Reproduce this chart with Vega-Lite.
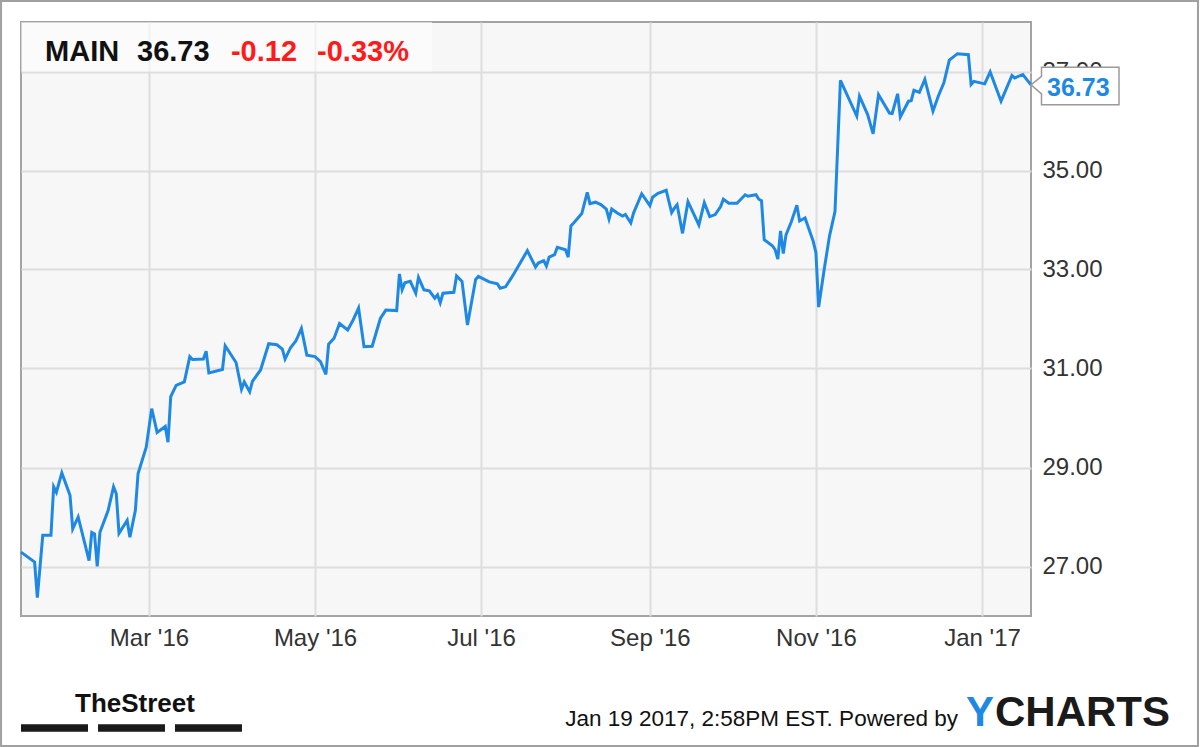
{
"$schema": "https://vega.github.io/schema/vega-lite/v6.json",
"width": 1010, "height": 594,
"autosize": {"type": "none"},
"padding": {"left": 21, "top": 22, "right": 169, "bottom": 131},
"background": "white",
"resolve": {"axis": {"x": "independent", "y": "independent"}},
"config": {
  "view": {"fill": "#f7f7f7", "stroke": "#a3a3a3", "strokeWidth": 2},
  "font": "Liberation Sans, Arial, sans-serif",
  "axis": {"labelFont": "Liberation Sans, Arial, sans-serif", "labelFontSize": 24, "labelColor": "#333333", "domain": false, "ticks": false, "gridColor": "#dedede", "gridWidth": 2}
},
"datasets": {
  "prices": [
    {"date":"2016-01-14","price":27.29},{"date":"2016-01-19","price":27.09},{"date":"2016-01-20","price":26.37},{"date":"2016-01-22","price":27.63},{"date":"2016-01-25","price":27.63},{"date":"2016-01-26","price":28.61},{"date":"2016-01-27","price":28.50},{"date":"2016-01-29","price":28.89},
    {"date":"2016-02-01","price":28.44},{"date":"2016-02-02","price":27.76},{"date":"2016-02-04","price":28.00},{"date":"2016-02-08","price":27.12},{"date":"2016-02-09","price":27.69},{"date":"2016-02-10","price":27.66},{"date":"2016-02-11","price":27.00},{"date":"2016-02-12","price":27.69},{"date":"2016-02-15","price":28.13},{"date":"2016-02-17","price":28.61},{"date":"2016-02-18","price":28.47},{"date":"2016-02-19","price":27.67},{"date":"2016-02-22","price":27.93},{"date":"2016-02-23","price":27.59},{"date":"2016-02-25","price":28.13},{"date":"2016-02-26","price":28.88},{"date":"2016-02-29","price":29.41},
    {"date":"2016-03-02","price":30.19},{"date":"2016-03-04","price":29.71},{"date":"2016-03-07","price":29.83},{"date":"2016-03-08","price":29.51},{"date":"2016-03-09","price":30.43},{"date":"2016-03-11","price":30.66},{"date":"2016-03-14","price":30.73},{"date":"2016-03-16","price":31.24},{"date":"2016-03-17","price":31.18},{"date":"2016-03-21","price":31.19},{"date":"2016-03-22","price":31.35},{"date":"2016-03-23","price":30.91},{"date":"2016-03-28","price":30.98},{"date":"2016-03-29","price":31.46},
    {"date":"2016-04-02","price":31.12},{"date":"2016-04-04","price":30.58},{"date":"2016-04-05","price":30.73},{"date":"2016-04-07","price":30.53},{"date":"2016-04-08","price":30.74},{"date":"2016-04-11","price":30.97},{"date":"2016-04-14","price":31.50},{"date":"2016-04-17","price":31.48},{"date":"2016-04-19","price":31.39},{"date":"2016-04-20","price":31.19},{"date":"2016-04-22","price":31.42},{"date":"2016-04-24","price":31.56},{"date":"2016-04-26","price":31.81},{"date":"2016-04-28","price":31.27},
    {"date":"2016-05-01","price":31.24},{"date":"2016-05-03","price":31.14},{"date":"2016-05-05","price":30.88},{"date":"2016-05-06","price":31.49},{"date":"2016-05-08","price":31.61},{"date":"2016-05-10","price":31.91},{"date":"2016-05-13","price":31.78},{"date":"2016-05-15","price":31.98},{"date":"2016-05-17","price":32.22},{"date":"2016-05-19","price":31.44},{"date":"2016-05-22","price":31.45},{"date":"2016-05-25","price":32.01},{"date":"2016-05-27","price":32.18},{"date":"2016-05-31","price":32.17},
    {"date":"2016-06-01","price":32.91},{"date":"2016-06-02","price":32.59},{"date":"2016-06-03","price":32.73},{"date":"2016-06-05","price":32.76},{"date":"2016-06-07","price":32.52},{"date":"2016-06-08","price":32.84},{"date":"2016-06-10","price":32.59},{"date":"2016-06-12","price":32.57},{"date":"2016-06-14","price":32.42},{"date":"2016-06-15","price":32.49},{"date":"2016-06-16","price":32.33},{"date":"2016-06-17","price":32.52},{"date":"2016-06-21","price":32.54},{"date":"2016-06-22","price":32.87},{"date":"2016-06-24","price":32.76},{"date":"2016-06-26","price":31.88},{"date":"2016-06-29","price":32.80},{"date":"2016-06-30","price":32.86},
    {"date":"2016-07-04","price":32.75},{"date":"2016-07-07","price":32.71},{"date":"2016-07-08","price":32.62},{"date":"2016-07-10","price":32.65},{"date":"2016-07-12","price":32.82},{"date":"2016-07-13","price":32.91},{"date":"2016-07-18","price":33.38},{"date":"2016-07-21","price":33.05},{"date":"2016-07-22","price":33.13},{"date":"2016-07-24","price":33.18},{"date":"2016-07-25","price":33.07},{"date":"2016-07-26","price":33.25},{"date":"2016-07-28","price":33.30},{"date":"2016-07-29","price":33.45},
    {"date":"2016-08-01","price":33.40},{"date":"2016-08-02","price":33.25},{"date":"2016-08-03","price":33.88},{"date":"2016-08-04","price":33.94},{"date":"2016-08-07","price":34.13},{"date":"2016-08-09","price":34.56},{"date":"2016-08-10","price":34.33},{"date":"2016-08-12","price":34.36},{"date":"2016-08-14","price":34.31},{"date":"2016-08-16","price":34.22},{"date":"2016-08-17","price":34.02},{"date":"2016-08-18","price":34.22},{"date":"2016-08-20","price":34.14},{"date":"2016-08-22","price":34.08},{"date":"2016-08-23","price":34.11},{"date":"2016-08-25","price":33.94},{"date":"2016-08-26","price":34.14},{"date":"2016-08-29","price":34.53},
    {"date":"2016-09-01","price":34.29},{"date":"2016-09-02","price":34.46},{"date":"2016-09-04","price":34.54},{"date":"2016-09-07","price":34.60},{"date":"2016-09-09","price":34.15},{"date":"2016-09-10","price":34.24},{"date":"2016-09-11","price":34.31},{"date":"2016-09-13","price":33.73},{"date":"2016-09-15","price":34.37},{"date":"2016-09-19","price":33.90},{"date":"2016-09-21","price":34.35},{"date":"2016-09-23","price":34.07},{"date":"2016-09-25","price":34.11},{"date":"2016-09-27","price":34.27},{"date":"2016-09-28","price":34.42},{"date":"2016-09-30","price":34.34},
    {"date":"2016-10-03","price":34.34},{"date":"2016-10-06","price":34.51},{"date":"2016-10-07","price":34.48},{"date":"2016-10-10","price":34.51},{"date":"2016-10-11","price":34.42},{"date":"2016-10-12","price":34.39},{"date":"2016-10-13","price":33.60},{"date":"2016-10-16","price":33.48},{"date":"2016-10-17","price":33.40},{"date":"2016-10-18","price":33.21},{"date":"2016-10-19","price":33.78},{"date":"2016-10-20","price":33.32},{"date":"2016-10-21","price":33.70},{"date":"2016-10-23","price":33.97},{"date":"2016-10-25","price":34.30},{"date":"2016-10-26","price":33.98},{"date":"2016-10-28","price":34.04},{"date":"2016-10-31","price":33.57},
    {"date":"2016-11-01","price":33.34},{"date":"2016-11-02","price":32.24},{"date":"2016-11-04","price":32.99},{"date":"2016-11-06","price":33.68},{"date":"2016-11-08","price":34.17},{"date":"2016-11-09","price":35.49},{"date":"2016-11-10","price":36.82},{"date":"2016-11-16","price":36.10},{"date":"2016-11-17","price":36.50},{"date":"2016-11-20","price":36.13},{"date":"2016-11-22","price":35.74},{"date":"2016-11-24","price":36.53},{"date":"2016-11-28","price":36.16},{"date":"2016-11-29","price":36.15},
    {"date":"2016-12-01","price":36.55},{"date":"2016-12-02","price":36.08},{"date":"2016-12-05","price":36.40},{"date":"2016-12-06","price":36.41},{"date":"2016-12-07","price":36.62},{"date":"2016-12-09","price":36.58},{"date":"2016-12-11","price":36.84},{"date":"2016-12-14","price":36.20},{"date":"2016-12-16","price":36.51},{"date":"2016-12-18","price":36.77},{"date":"2016-12-20","price":37.23},{"date":"2016-12-23","price":37.36},{"date":"2016-12-27","price":37.34},{"date":"2016-12-28","price":36.74},{"date":"2016-12-29","price":36.80},
    {"date":"2017-01-02","price":36.75},{"date":"2017-01-04","price":36.99},{"date":"2017-01-08","price":36.40},{"date":"2017-01-12","price":36.92},{"date":"2017-01-13","price":36.87},{"date":"2017-01-16","price":36.94},{"date":"2017-01-19","price":36.73}
  ],
  "last": [{"date":"2017-01-19","price":36.73,"label":"36.73"}]
},
"layer": [
  {
    "data": {"name": "prices"},
    "mark": {"type": "line", "color": "#1e88e5", "strokeWidth": 3},
    "encoding": {
      "x": {"field": "date", "type": "temporal", "title": null,
        "scale": {"type": "utc", "domain": [{"year":2016,"month":1,"date":14,"utc":true},{"year":2017,"month":1,"date":19,"utc":true}]},
        "axis": {"values": [{"year":2016,"month":3,"date":1,"utc":true},{"year":2016,"month":5,"date":1,"utc":true},{"year":2016,"month":7,"date":1,"utc":true},{"year":2016,"month":9,"date":1,"utc":true},{"year":2016,"month":11,"date":1,"utc":true},{"year":2017,"month":1,"date":1,"utc":true}],
          "format": "%b '%y", "labelPadding": 10, "grid": true, "labelFlush": false, "labelOverlap": false}},
      "y": {"field": "price", "type": "quantitative", "title": null,
        "scale": {"domain": [26, 38], "nice": false, "zero": false},
        "axis": {"orient": "right", "values": [27,29,31,33,35,37], "format": ".2f", "labelPadding": 11, "grid": true, "labelFlush": false, "labelOverlap": false}}
    }
  },
  {
    "data": {"values": [{}]},
    "mark": {"type": "rect", "fill": "white", "opacity": 0.55},
    "encoding": {
      "x": {"datum": {"year":2016,"month":1,"date":14,"utc":true}, "type": "temporal", "scale": {"type": "utc"}, "axis": null},
      "x2": {"datum": {"year":2016,"month":6,"date":13,"utc":true}},
      "y": {"datum": 38, "type": "quantitative", "axis": null},
      "y2": {"datum": 37}
    }
  },
  {
    "data": {"values": [{}]},
    "mark": {"type": "text", "text": "MAIN", "align": "left", "baseline": "alphabetic", "fontSize": 29, "fontWeight": "bold", "color": "#111111"},
    "encoding": {
      "x": {"datum": {"year":2016,"month":1,"date":22,"hours":20,"utc":true}, "type": "temporal", "scale": {"type": "utc"}, "axis": null},
      "y": {"datum": 37.21, "type": "quantitative", "axis": null}
    }
  },
  {
    "data": {"values": [{}]},
    "mark": {"type": "text", "text": "36.73", "align": "left", "baseline": "alphabetic", "fontSize": 29, "fontWeight": "bold", "color": "#111111"},
    "encoding": {
      "x": {"datum": {"year":2016,"month":2,"date":25,"hours":15,"utc":true}, "type": "temporal", "scale": {"type": "utc"}, "axis": null},
      "y": {"datum": 37.21, "type": "quantitative", "axis": null}
    }
  },
  {
    "data": {"values": [{}]},
    "mark": {"type": "text", "text": "-0.12", "align": "left", "baseline": "alphabetic", "fontSize": 29, "fontWeight": "bold", "color": "#ff1a1a"},
    "encoding": {
      "x": {"datum": {"year":2016,"month":3,"date":31,"hours":3,"utc":true}, "type": "temporal", "scale": {"type": "utc"}, "axis": null},
      "y": {"datum": 37.21, "type": "quantitative", "axis": null}
    }
  },
  {
    "data": {"values": [{}]},
    "mark": {"type": "text", "text": "-0.33%", "align": "left", "baseline": "alphabetic", "fontSize": 29, "fontWeight": "bold", "color": "#ff1a1a"},
    "encoding": {
      "x": {"datum": {"year":2016,"month":5,"date":1,"hours":18,"utc":true}, "type": "temporal", "scale": {"type": "utc"}, "axis": null},
      "y": {"datum": 37.21, "type": "quantitative", "axis": null}
    }
  },
  {
    "data": {"name": "last"},
    "mark": {"type": "point", "shape": "M0,0L0.21,-0.17L0.21,-0.35L1.76,-0.35L1.76,0.4L0.21,0.4L0.21,0.18Z", "size": 10000, "filled": true, "fill": "white", "stroke": "#9a9a9a", "strokeWidth": 1.5, "opacity": 1},
    "encoding": {
      "x": {"field": "date", "type": "temporal", "scale": {"type": "utc"}, "axis": null},
      "y": {"field": "price", "type": "quantitative", "axis": null}
    }
  },
  {
    "data": {"name": "last"},
    "mark": {"type": "text", "align": "left", "baseline": "alphabetic", "dx": 16, "dy": 11, "fontSize": 25, "fontWeight": "bold", "color": "#1e88e5"},
    "encoding": {
      "x": {"field": "date", "type": "temporal", "scale": {"type": "utc"}, "axis": null},
      "y": {"field": "price", "type": "quantitative", "axis": null},
      "text": {"field": "label"}
    }
  },
  {
    "data": {"values": [{}]},
    "mark": {"type": "text", "text": "TheStreet", "align": "left", "baseline": "alphabetic", "fontSize": 26, "fontWeight": "bold", "font": "Liberation Sans, Arial, sans-serif", "color": "#111111"},
    "encoding": {
      "x": {"datum": {"year":2016,"month":2,"date":2,"hours":20,"utc":true}, "type": "temporal", "scale": {"type": "utc"}, "axis": null},
      "y": {"datum": 24.06, "type": "quantitative", "axis": null}
    }
  },
  {
    "data": {"values": [{}]},
    "mark": {"type": "rule", "color": "#1a1a1a", "strokeWidth": 7.5, "strokeDash": [67, 10], "strokeCap": "butt"},
    "encoding": {
      "x": {"datum": {"year":2016,"month":1,"date":14,"utc":true}, "type": "temporal", "scale": {"type": "utc"}, "axis": null},
      "x2": {"datum": {"year":2016,"month":4,"date":4,"hours":4,"utc":true}},
      "y": {"datum": 23.737, "type": "quantitative", "axis": null}
    }
  },
  {
    "data": {"values": [{}]},
    "mark": {"type": "text", "text": "Jan 19 2017, 2:58PM EST. Powered by", "align": "right", "baseline": "alphabetic", "fontSize": 22.5, "color": "#111111"},
    "encoding": {
      "x": {"datum": {"year":2016,"month":12,"date":23,"hours":4,"utc":true}, "type": "temporal", "scale": {"type": "utc"}, "axis": null},
      "y": {"datum": 23.778, "type": "quantitative", "axis": null}
    }
  },
  {
    "data": {"values": [{}]},
    "mark": {"type": "text", "text": "Y", "align": "left", "baseline": "alphabetic", "fontSize": 42, "fontWeight": "bold", "color": "#1e88e5"},
    "encoding": {
      "x": {"datum": {"year":2016,"month":12,"date":26,"hours":3,"utc":true}, "type": "temporal", "scale": {"type": "utc"}, "axis": null},
      "y": {"datum": 23.778, "type": "quantitative", "axis": null}
    }
  },
  {
    "data": {"values": [{}]},
    "mark": {"type": "text", "text": "CHARTS", "align": "left", "baseline": "alphabetic", "fontSize": 42, "fontWeight": "bold", "color": "#1a1a1a"},
    "encoding": {
      "x": {"datum": {"year":2017,"month":1,"date":5,"hours":19,"utc":true}, "type": "temporal", "scale": {"type": "utc"}, "axis": null},
      "y": {"datum": 23.778, "type": "quantitative", "axis": null}
    }
  },
  {
    "data": {"values": [{}]},
    "mark": {"type": "rect", "fill": "transparent", "stroke": "#a0a0a0", "strokeWidth": 2},
    "encoding": {
      "x": {"datum": {"year":2016,"month":1,"date":6,"hours":16,"utc":true}, "type": "temporal", "scale": {"type": "utc"}, "axis": null},
      "x2": {"datum": {"year":2017,"month":3,"date":21,"hours":8,"utc":true}},
      "y": {"datum": 38.424, "type": "quantitative", "axis": null},
      "y2": {"datum": 23.374}
    }
  }
]
}
